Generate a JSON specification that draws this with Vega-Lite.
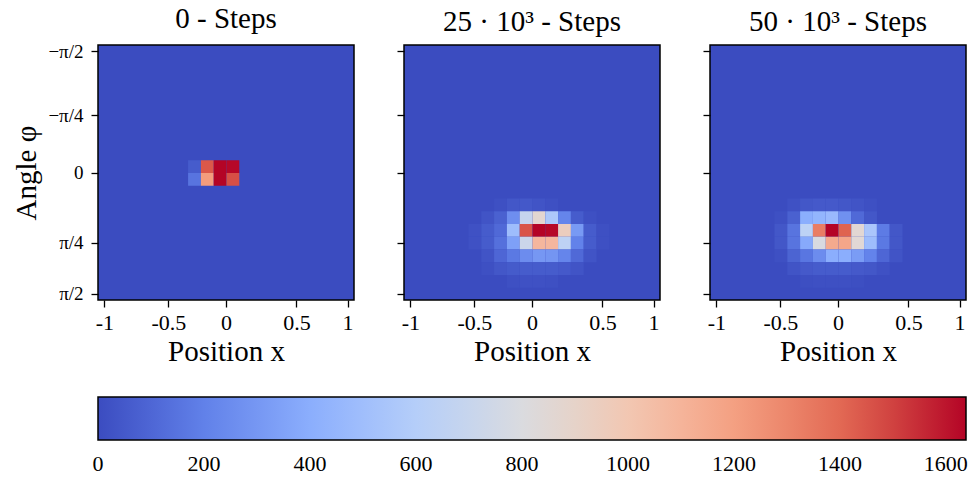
{
  "$schema": "https://vega.github.io/schema/vega-lite/v6.json",
  "background": "white",
  "padding": {"left": 12, "top": 4, "right": 5, "bottom": 5},
  "datasets": {
    "s0": [
      {"i":7,"j":9,"v":60},{"i":8,"j":9,"v":1450},{"i":9,"j":9,"v":1638},{"i":10,"j":9,"v":1630},
      {"i":7,"j":10,"v":150},{"i":8,"j":10,"v":1220},{"i":9,"j":10,"v":1638},{"i":10,"j":10,"v":1470}
    ],
    "s25": [
      {"i":7,"j":12,"v":15},{"i":8,"j":12,"v":40},{"i":9,"j":12,"v":45},{"i":10,"j":12,"v":30},{"i":11,"j":12,"v":15},
      {"i":6,"j":13,"v":30},{"i":7,"j":13,"v":80},{"i":8,"j":13,"v":260},{"i":9,"j":13,"v":690},{"i":10,"j":13,"v":870},{"i":11,"j":13,"v":560},{"i":12,"j":13,"v":220},{"i":13,"j":13,"v":60},{"i":14,"j":13,"v":15},
      {"i":5,"j":14,"v":20},{"i":6,"j":14,"v":60},{"i":7,"j":14,"v":110},{"i":8,"j":14,"v":490},{"i":9,"j":14,"v":1460},{"i":10,"j":14,"v":1638},{"i":11,"j":14,"v":1630},{"i":12,"j":14,"v":950},{"i":13,"j":14,"v":310},{"i":14,"j":14,"v":60},{"i":15,"j":14,"v":15},
      {"i":5,"j":15,"v":20},{"i":6,"j":15,"v":60},{"i":7,"j":15,"v":135},{"i":8,"j":15,"v":340},{"i":9,"j":15,"v":720},{"i":10,"j":15,"v":1090},{"i":11,"j":15,"v":1090},{"i":12,"j":15,"v":650},{"i":13,"j":15,"v":205},{"i":14,"j":15,"v":60},{"i":15,"j":15,"v":15},
      {"i":6,"j":16,"v":30},{"i":7,"j":16,"v":100},{"i":8,"j":16,"v":170},{"i":9,"j":16,"v":250},{"i":10,"j":16,"v":300},{"i":11,"j":16,"v":290},{"i":12,"j":16,"v":220},{"i":13,"j":16,"v":110},{"i":14,"j":16,"v":30},
      {"i":6,"j":17,"v":15},{"i":7,"j":17,"v":40},{"i":8,"j":17,"v":55},{"i":9,"j":17,"v":60},{"i":10,"j":17,"v":60},{"i":11,"j":17,"v":60},{"i":12,"j":17,"v":50},{"i":13,"j":17,"v":30},
      {"i":8,"j":18,"v":15},{"i":9,"j":18,"v":20},{"i":10,"j":18,"v":20},{"i":11,"j":18,"v":15}
    ],
    "s50": [
      {"i":6,"j":12,"v":20},{"i":7,"j":12,"v":40},{"i":8,"j":12,"v":50},{"i":9,"j":12,"v":50},{"i":10,"j":12,"v":40},{"i":11,"j":12,"v":30},{"i":12,"j":12,"v":15},
      {"i":5,"j":13,"v":15},{"i":6,"j":13,"v":80},{"i":7,"j":13,"v":400},{"i":8,"j":13,"v":440},{"i":9,"j":13,"v":470},{"i":10,"j":13,"v":270},{"i":11,"j":13,"v":110},{"i":12,"j":13,"v":40},
      {"i":5,"j":14,"v":40},{"i":6,"j":14,"v":150},{"i":7,"j":14,"v":640},{"i":8,"j":14,"v":1330},{"i":9,"j":14,"v":1638},{"i":10,"j":14,"v":1420},{"i":11,"j":14,"v":860},{"i":12,"j":14,"v":550},{"i":13,"j":14,"v":180},{"i":14,"j":14,"v":40},
      {"i":5,"j":15,"v":40},{"i":6,"j":15,"v":150},{"i":7,"j":15,"v":380},{"i":8,"j":15,"v":790},{"i":9,"j":15,"v":1150},{"i":10,"j":15,"v":1170},{"i":11,"j":15,"v":850},{"i":12,"j":15,"v":490},{"i":13,"j":15,"v":170},{"i":14,"j":15,"v":40},
      {"i":5,"j":16,"v":15},{"i":6,"j":16,"v":90},{"i":7,"j":16,"v":160},{"i":8,"j":16,"v":250},{"i":9,"j":16,"v":400},{"i":10,"j":16,"v":400},{"i":11,"j":16,"v":320},{"i":12,"j":16,"v":210},{"i":13,"j":16,"v":100},{"i":14,"j":16,"v":30},
      {"i":6,"j":17,"v":30},{"i":7,"j":17,"v":50},{"i":8,"j":17,"v":60},{"i":9,"j":17,"v":60},{"i":10,"j":17,"v":60},{"i":11,"j":17,"v":50},{"i":12,"j":17,"v":40},{"i":13,"j":17,"v":20},
      {"i":7,"j":18,"v":10},{"i":8,"j":18,"v":15},{"i":9,"j":18,"v":15},{"i":10,"j":18,"v":15},{"i":11,"j":18,"v":10}
    ]
  },
  "config": {
    "font": "Liberation Serif",
    "view": {"fill": "#3b4cc0", "stroke": "black", "strokeWidth": 1.5},
    "axis": {"domain": false, "grid": false, "tickColor": "black", "tickWidth": 1.3, "tickSize": 7, "labelColor": "black", "labelFont": "Liberation Serif", "labelFontSize": 22, "labelPadding": 5, "titleFont": "Liberation Serif", "titleFontSize": 29, "titleFontWeight": "normal", "titleColor": "black", "titlePadding": 4},
    "axisY": {"labelPadding": 8, "titlePadding": 6},
    "title": {"font": "Liberation Serif", "fontSize": 29, "fontWeight": "normal", "color": "black", "offset": 8},
    "concat": {"spacing": 40}
  },
  "resolve": {"scale": {"color": "shared"}},
  "hconcat": [
    {
      "width": 256, "height": 255,
      "title": "0 - Steps",
      "data": {"name": "s0"},
      "mark": {"type": "rect"},
      "encoding": {
        "x": {"field": "i", "type": "quantitative", "bin": {"binned": true, "step": 1}, "scale": {"domain": [0, 20], "nice": false, "zero": false},
              "axis": {"values": [0.5, 5.5, 10, 15.5, 19.5], "labelExpr": "datum.value < 1 ? '-1' : datum.value < 6 ? '-0.5' : datum.value < 11 ? '0' : datum.value < 16 ? '0.5' : '1'", "title": "Position x"}},
        "y": {"field": "j", "type": "quantitative", "bin": {"binned": true, "step": 1}, "scale": {"domain": [0, 20], "nice": false, "zero": false, "reverse": true},
              "axis": {"values": [0.5, 5.5, 10, 15.5, 19.5], "labelExpr": "datum.value < 1 ? '−π/2' : datum.value < 6 ? '−π/4' : datum.value < 11 ? '0' : datum.value < 16 ? 'π/4' : 'π/2'", "labelFontSize": 19, "title": "Angle φ"}},
        "color": {"field": "v", "type": "quantitative",
                  "scale": {"domain": [0, 1638], "range": ["#3b4cc0", "#6282ea", "#8db0fe", "#b8d0f9", "#dddcdc", "#f5c4ad", "#f49a7b", "#de604d", "#b40426"], "interpolate": "rgb"},
                  "legend": {"orient": "bottom", "direction": "horizontal", "title": null, "gradientLength": 868, "gradientThickness": 43, "values": [0, 200, 400, 600, 800, 1000, 1200, 1400, 1600], "format": "d", "labelFontSize": 22, "labelFont": "Liberation Serif", "labelColor": "black", "labelAlign": "center", "labelOffset": 14, "gradientStrokeColor": "black", "gradientStrokeWidth": 1.5, "offset": 30,
                             "encode": {"labels": {"enter": {"align": {"value": "center"}}, "update": {"align": {"value": "center"}}}}}}
      }
    },
    {
      "width": 256, "height": 255,
      "title": "25 · 10³ - Steps",
      "data": {"name": "s25"},
      "mark": {"type": "rect"},
      "encoding": {
        "x": {"field": "i", "type": "quantitative", "bin": {"binned": true, "step": 1}, "scale": {"domain": [0, 20], "nice": false, "zero": false},
              "axis": {"values": [0.5, 5.5, 10, 15.5, 19.5], "labelExpr": "datum.value < 1 ? '-1' : datum.value < 6 ? '-0.5' : datum.value < 11 ? '0' : datum.value < 16 ? '0.5' : '1'", "title": "Position x"}},
        "y": {"field": "j", "type": "quantitative", "bin": {"binned": true, "step": 1}, "scale": {"domain": [0, 20], "nice": false, "zero": false, "reverse": true},
              "axis": {"values": [0.5, 5.5, 10, 15.5, 19.5], "labels": false, "title": null}},
        "color": {"field": "v", "type": "quantitative",
                  "scale": {"domain": [0, 1638], "range": ["#3b4cc0", "#6282ea", "#8db0fe", "#b8d0f9", "#dddcdc", "#f5c4ad", "#f49a7b", "#de604d", "#b40426"], "interpolate": "rgb"}}
      }
    },
    {
      "width": 256, "height": 255,
      "title": "50 · 10³ - Steps",
      "data": {"name": "s50"},
      "mark": {"type": "rect"},
      "encoding": {
        "x": {"field": "i", "type": "quantitative", "bin": {"binned": true, "step": 1}, "scale": {"domain": [0, 20], "nice": false, "zero": false},
              "axis": {"values": [0.5, 5.5, 10, 15.5, 19.5], "labelExpr": "datum.value < 1 ? '-1' : datum.value < 6 ? '-0.5' : datum.value < 11 ? '0' : datum.value < 16 ? '0.5' : '1'", "title": "Position x"}},
        "y": {"field": "j", "type": "quantitative", "bin": {"binned": true, "step": 1}, "scale": {"domain": [0, 20], "nice": false, "zero": false, "reverse": true},
              "axis": {"values": [0.5, 5.5, 10, 15.5, 19.5], "labels": false, "title": null}},
        "color": {"field": "v", "type": "quantitative",
                  "scale": {"domain": [0, 1638], "range": ["#3b4cc0", "#6282ea", "#8db0fe", "#b8d0f9", "#dddcdc", "#f5c4ad", "#f49a7b", "#de604d", "#b40426"], "interpolate": "rgb"}}
      }
    }
  ]
}
